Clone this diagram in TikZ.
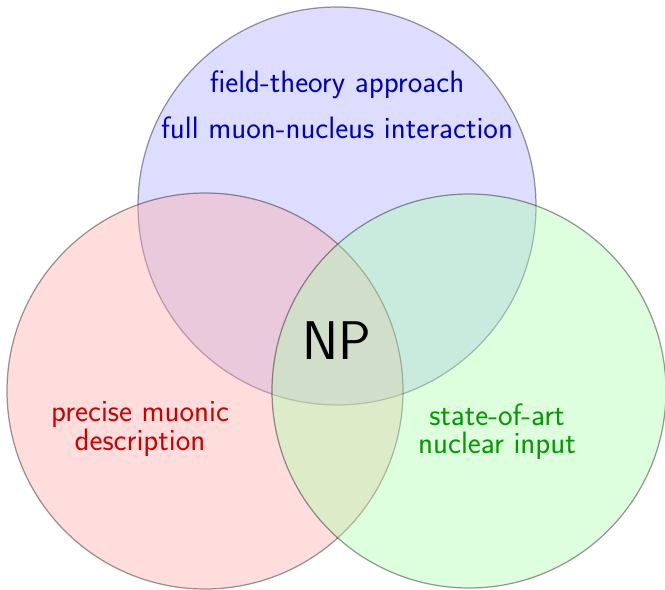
\documentclass[tikz,border=0pt]{standalone}
\begin{document}
\begin{tikzpicture}[x=0.02cm,y=-0.02cm,
  venn/.style={draw=black,draw opacity=0.4,line width=0.7pt,fill opacity=0.4},
  lbl/.style={font=\sffamily\fontsize{17.6}{16}\selectfont,align=center}]
\useasboundingbox (0,0) rectangle (665,589);
\path[venn,fill=blue!33] (337,206) circle (199);
\path[venn,fill=red!33] (205,391) circle (198);
\path[venn,fill=green!33] (469,391) circle (197);
\node[lbl,text=blue!75!black] (t1) at (337,85) {field-theory approach};
\node[lbl,text=blue!75!black] (t2) at (337,128) {full muon-nucleus interaction};
\node[lbl,text=red!80!black] (r) at (140,429) {precise muonic\\description};
\node[lbl,text=green!60!black] (g) at (497,432) {state-of-art\\nuclear input};
\node[font=\sffamily\fontsize{31}{34}\selectfont] (np) at (337,341) {NP};
\end{tikzpicture}
\end{document}
